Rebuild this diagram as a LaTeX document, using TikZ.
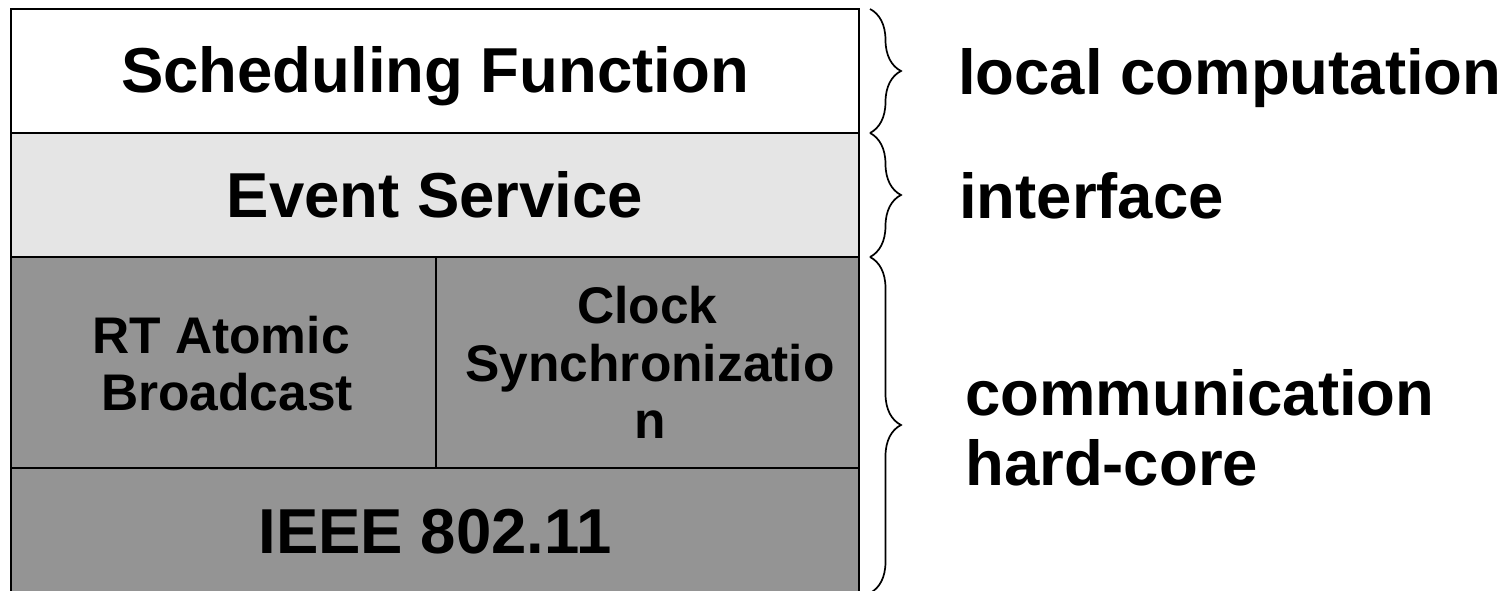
\documentclass[tikz,border=0pt]{standalone}
\usepackage{fontspec}
\setmainfont{Liberation Sans}
\usetikzlibrary{decorations.pathreplacing}
\definecolor{paneLight}{RGB}{229,229,229}
\definecolor{paneDark}{RGB}{148,148,148}
\begin{document}
\begin{tikzpicture}[x=1pt,y=-1pt,
  cell/.style={draw=black, line width=1.7pt, rectangle, inner sep=0pt,
               outer sep=0pt, anchor=north west},
  big/.style={font=\bfseries\fontsize{63.5}{70}\selectfont, inner sep=0pt, anchor=base},
  small/.style={font=\bfseries\fontsize{51.5}{57}\selectfont, inner sep=0pt, anchor=base},
  side/.style={big, anchor=base west},
  bracket/.style={decorate, decoration={brace, amplitude=31pt}, line width=1.7pt}]
\useasboundingbox (0,0) rectangle (1512,591);
\clip (0,0) rectangle (1512,591);

% protocol stack
\node[cell, fill=white,     minimum width=848pt, minimum height=124pt] (sched) at (11,9) {};
\node[cell, fill=paneLight, minimum width=848pt, minimum height=124pt] (event) at (11,133) {};
\node[cell, fill=paneDark,  minimum width=425pt, minimum height=211pt] (rtab)  at (11,257) {};
\node[cell, fill=paneDark,  minimum width=423pt, minimum height=211pt] (clock) at (436,257) {};
\node[cell, fill=paneDark,  minimum width=848pt, minimum height=126pt] (ieee)  at (11,468) {};

% layer names
\node[big] (tSched) at (435,93) {Scheduling Function};
\node[big] (tEvent) at (435,217) {Event Service};
\node[small] (tRt1) at (221,353) {RT Atomic};
\node[small] (tRt2) at (227,410) {Broadcast};
\node[small] (tCk1) at (647.5,323) {Clock};
\node[small] (tCk2) at (650,381) {Synchronizatio};
\node[small] (tCk3) at (650,438) {n};
\node[big] (tIeee) at (435,553) {IEEE 802.11};

% braces grouping the layers
\coordinate (b1top) at (870,9);
\coordinate (b1bot) at (870,133);
\coordinate (b2bot) at (870,257);
\coordinate (b3bot) at (870,593);
\draw[bracket] (b1top) -- (b1bot);
\draw[bracket] (b1bot) -- (b2bot);
\draw[bracket] (b2bot) -- (b3bot);

% group names
\node[side] (gLocal) at (958,95) {local computation};
\node[side] (gIface) at (959,218) {interface};
\node[side] (gComm1) at (965,415) {communication};
\node[side] (gComm2) at (965,485) {hard-core};
\end{tikzpicture}
\end{document}
